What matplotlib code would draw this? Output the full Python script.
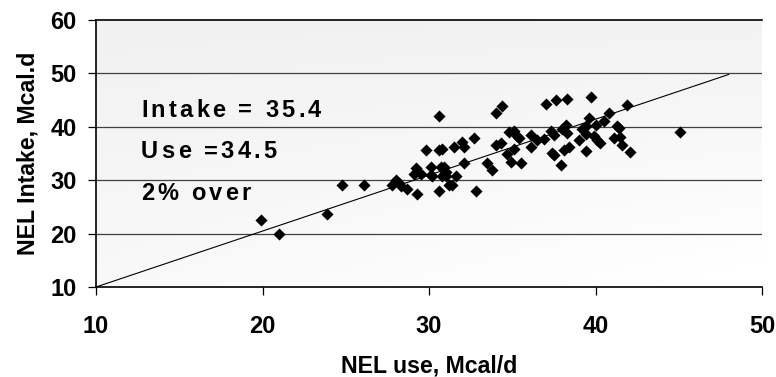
import numpy as np
import matplotlib
matplotlib.use('Agg')
import matplotlib.pyplot as plt

plt.rcParams['font.family'] = ['Liberation Sans', 'DejaVu Sans']
plt.rcParams['font.weight'] = 'bold'

# NEL use (x) and NEL intake (y), Mcal/d
nel_use = [19.9, 21.0, 23.9, 24.8, 26.1, 27.8, 28.0, 28.2, 28.3, 28.7,
           29.3, 29.2, 29.1, 29.5, 29.8, 30.1, 30.1, 30.2, 30.6, 30.6,
           30.8, 30.6, 30.7, 30.8, 30.9, 31.0, 31.0, 31.2, 31.4, 31.6,
           31.5, 32.0, 32.1, 32.1, 32.7, 32.8, 33.5, 33.8, 34.0, 34.4,
           34.0, 34.3, 34.7, 34.9, 35.1, 34.8, 35.1, 35.3, 35.4, 35.5,
           36.1, 36.1, 36.5, 36.9, 37.0, 37.6, 38.3, 37.3, 37.5, 37.4,
           37.5, 37.9, 38.1, 38.4, 38.2, 38.0, 38.3, 39.0, 39.2, 39.4,
           39.4, 39.4, 39.6, 39.7, 39.9, 40.0, 40.1, 40.3, 40.5, 40.8,
           41.1, 41.3, 41.4, 41.5, 41.6, 41.9, 42.1, 45.1]
nel_intake = [22.5, 20.0, 23.7, 29.1, 29.1, 29.1, 30.1, 29.4, 29.0, 28.3,
              27.4, 32.2, 31.1, 31.2, 35.6, 32.5, 31.0, 30.7, 42.0, 35.6,
              35.9, 27.9, 32.5, 30.7, 32.5, 31.6, 30.7, 29.1, 29.1, 30.7,
              36.2, 37.1, 36.2, 33.2, 37.9, 27.9, 33.2, 32.0, 42.6, 43.9,
              36.6, 37.0, 34.9, 33.5, 35.9, 39.0, 39.2, 38.2, 37.9, 33.2,
              38.4, 36.2, 37.6, 37.8, 44.2, 45.0, 45.2, 39.2, 38.4, 35.0,
              34.8, 32.9, 35.6, 36.2, 40.4, 39.6, 38.9, 37.6, 39.5, 38.6,
              35.4, 40.1, 41.7, 45.5, 38.2, 40.3, 37.6, 37.0, 41.1, 42.6,
              37.9, 40.1, 39.7, 38.1, 36.5, 44.0, 35.2, 39.0]

line_x = [10, 48]
line_y = [10, 49.8]

notes = ['Intake = 35.4', 'Use =34.5', '2% over']
note_y = [41.9, 34.1, 26.3]   # baselines

fig = plt.figure(figsize=(7.76, 3.77), dpi=100)
ax = fig.add_axes([96/776, 1-287/377, (762-96)/776, (287-20)/377])

# light grey gradient background
h = np.linspace(0, 1, 200)
v = np.linspace(0, 1, 100)
H, V = np.meshgrid(h, v)
shade = 0.945 + 0.055*np.clip(0.55*V + 0.45*H*V + 0.1*H, 0, 1)
ax.imshow(np.dstack([shade]*3), extent=[10, 50, 10, 60], aspect='auto',
          origin='upper', zorder=0, interpolation='bilinear')

for yg in [20, 30, 40, 50]:
    ax.axhline(yg, color='#404040', lw=0.9, zorder=1)
ax.axhline(60, color='black', lw=1.2, zorder=1, clip_on=False)

ax.plot(line_x, line_y, color='black', lw=0.8, zorder=2)
ax.scatter(nel_use, nel_intake, marker='D', s=38, color='black', zorder=3,
           linewidths=0)

# letter-spaced notes, one character at a time
renderer = fig.canvas.get_renderer()
fs = 17
space_w = 0.278 * fs * 100 / 72
gap = 3.2
for t, yy in zip(notes, note_y):
    off = 0.0
    for ch in t:
        if ch == ' ':
            off += space_w + gap
            continue
        txt = ax.annotate(ch, (12.7, yy), xytext=(off, 0), textcoords='offset pixels',
                          fontsize=fs, fontweight='bold', va='baseline', ha='left',
                          zorder=4)
        off += txt.get_window_extent(renderer).width + gap

ax.set_xlim(10, 50)
ax.set_ylim(10, 60)
ax.set_xticks([10, 20, 30, 40, 50])
ax.set_yticks([10, 20, 30, 40, 50, 60])
ax.tick_params(axis='both', direction='out', length=6, width=0.9,
               labelsize=17)
ax.tick_params(axis='y', pad=8)
ax.tick_params(axis='x', pad=14)
for lab in ax.get_xticklabels() + ax.get_yticklabels():
    lab.set_fontweight('bold')

ax.spines['top'].set_visible(False)
ax.spines['right'].set_visible(False)
ax.spines['left'].set_linewidth(1.2)
ax.spines['bottom'].set_linewidth(1.2)

ax.set_xlabel('NEL use, Mcal/d', fontsize=16.7, fontweight='bold', labelpad=12)
ax.set_ylabel('NEL Intake, Mcal.d', fontsize=16.7, fontweight='bold', labelpad=8)

fig.savefig('out.png', dpi=100)
